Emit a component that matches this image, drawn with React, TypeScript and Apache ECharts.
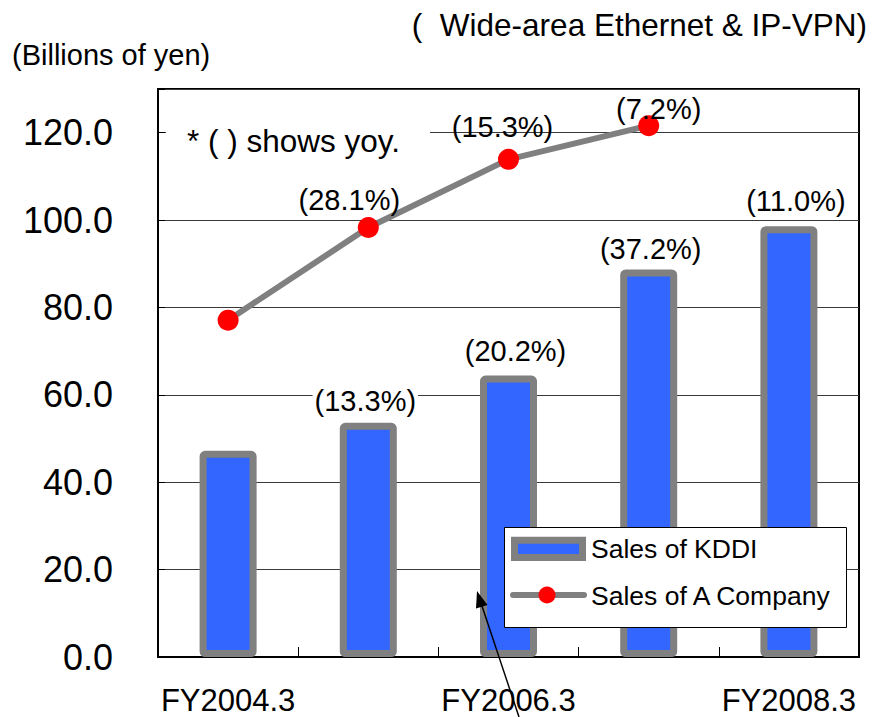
import React, { useEffect, useRef } from "react";
import * as echarts from "echarts";

const categories = ["FY2004.3", "FY2005.3", "FY2006.3", "FY2007.3", "FY2008.3"];
const kddiSales = [47.2, 53.6, 64.4, 88.7, 98.6];
const kddiYoy = ["", "(13.3%)", "(20.2%)", "(37.2%)", "(11.0%)"];
const companyASales: (number | null)[] = [77.1, 98.3, 113.9, 121.6, null];
const companyAYoy = ["", "(28.1%)", "(15.3%)", "(7.2%)", ""];

// label nudges (layout only)
const kddiLabelShift = [[0, 0], [-3, -7], [7, -10], [2, -6], [7, -11]];
const companyLabelShift = [[0, 0], [-19, -28], [-6, -32], [10, -17], [0, 0]];

const FONT = "'Liberation Sans', Arial, Helvetica, sans-serif";

export default function App() {
  const ref = useRef<HTMLDivElement>(null);
  useEffect(() => {
    if (!ref.current) return;
    const chart = echarts.init(ref.current, null, { renderer: "svg" });
    const option: any = {
      animation: false,
      backgroundColor: "#ffffff",
      textStyle: { fontFamily: FONT, color: "#000" },
      grid: {
        left: 158,
        top: 89,
        right: 13,
        bottom: 60,
        show: true,
        borderColor: "#000",
        borderWidth: 2,
        backgroundColor: "transparent",
      },
      xAxis: {
        type: "category",
        data: categories,
        boundaryGap: true,
        axisLine: { show: true, lineStyle: { color: "#000", width: 2 } },
        axisTick: { show: true, inside: true, length: 10, interval: 0, lineStyle: { color: "#000", width: 1 } },
        axisLabel: { interval: 1, fontSize: 31, color: "#000", margin: 28, fontFamily: FONT },
        splitLine: { show: false },
      },
      yAxis: {
        type: "value",
        min: 0,
        max: 130,
        interval: 20,
        axisLine: { show: true, lineStyle: { color: "#000", width: 2 } },
        axisTick: { show: true, inside: true, length: 7, lineStyle: { color: "#000", width: 1 } },
        axisLabel: {
          fontSize: 36,
          color: "#000",
          margin: 45,
          fontFamily: FONT,
          formatter: (v: number) => (v > 120 ? "" : v.toFixed(1)),
        },
        splitLine: { show: true, lineStyle: { color: "#3a3a3a", width: 1 } },
      },
      series: [
        {
          name: "Sales of KDDI",
          type: "bar",
          barWidth: 57,
          z: 2,
          itemStyle: {
            color: "#3366FF",
            borderColor: "#808080",
            borderWidth: 7,
            borderRadius: 2,
          },
          data: kddiSales.map((v, i) => ({
            value: v,
            label: {
              show: kddiYoy[i] !== "",
              formatter: kddiYoy[i],
              position: "top",
              distance: 0,
              offset: kddiLabelShift[i],
              fontSize: 29,
              color: "#000",
              fontFamily: FONT,
              backgroundColor: "#fff",
              padding: [0, 2],
            },
          })),
        },
        {
          name: "Sales of A Company",
          type: "line",
          z: 3,
          symbol: "circle",
          symbolSize: 21,
          lineStyle: { color: "#808080", width: 6 },
          itemStyle: { color: "#FF0000", borderWidth: 0 },
          data: companyASales.map((v, i) => ({
            value: v,
            label: {
              show: companyAYoy[i] !== "",
              formatter: companyAYoy[i],
              position: "inside",
              offset: companyLabelShift[i],
              fontSize: 29,
              color: "#000",
              fontFamily: FONT,
            },
          })),
        },
      ],
      graphic: [
        {
          type: "text",
          left: 12,
          top: 40,
          style: { text: "(Billions of yen)", fontSize: 29, fill: "#000", fontFamily: FONT },
        },
        {
          type: "text",
          right: 5,
          top: 9,
          style: { text: "(  Wide-area Ethernet & IP-VPN)", fontSize: 31.5, fill: "#000", fontFamily: FONT },
        },
        {
          type: "rect",
          z: 50,
          shape: { x: 166, y: 120, width: 264, height: 40 },
          style: { fill: "#fff" },
        },
        {
          type: "text",
          z: 51,
          x: 187,
          y: 141,
          style: {
            text: "* ( ) shows yoy.",
            fontSize: 31.5,
            fill: "#000",
            fontFamily: FONT,
            textVerticalAlign: "middle",
          },
        },
        // legend box
        {
          type: "group",
          z: 100,
          children: [
            {
              type: "rect",
              z: 100,
              shape: { x: 504.5, y: 527.5, width: 342, height: 100 },
              style: { fill: "#fff", stroke: "#000", lineWidth: 1 },
            },
            {
              type: "rect",
              z: 101,
              shape: { x: 514.5, y: 540.2, width: 68, height: 17.3 },
              style: { fill: "#3366FF", stroke: "#808080", lineWidth: 7 },
            },
            {
              type: "text",
              z: 101,
              x: 591,
              y: 549,
              style: { text: "Sales of KDDI", fontSize: 26.5, fill: "#000", fontFamily: FONT, textVerticalAlign: "middle" },
            },
            {
              type: "line",
              z: 101,
              shape: { x1: 513, y1: 595, x2: 584, y2: 595 },
              style: { stroke: "#808080", lineWidth: 6, lineCap: "round" },
            },
            {
              type: "circle",
              z: 102,
              shape: { cx: 547, cy: 595, r: 8.5 },
              style: { fill: "#FF0000" },
            },
            {
              type: "text",
              z: 101,
              x: 591,
              y: 596,
              style: { text: "Sales of A Company", fontSize: 26.5, fill: "#000", fontFamily: FONT, textVerticalAlign: "middle" },
            },
          ],
        },
        // arrow
        {
          type: "line",
          z: 110,
          shape: { x1: 519, y1: 717, x2: 481, y2: 603 },
          style: { stroke: "#000", lineWidth: 1.5 },
        },
        {
          type: "polygon",
          z: 110,
          shape: { points: [[477, 591], [487.5, 605], [476, 608.5]] },
          style: { fill: "#000" },
        },
      ],
    };
    chart.setOption(option);
    return () => chart.dispose();
  }, []);
  return (
    <div
      ref={ref}
      style={{ position: "fixed", left: 0, top: 0, width: 872, height: 717, background: "#fff" }}
    />
  );
}
